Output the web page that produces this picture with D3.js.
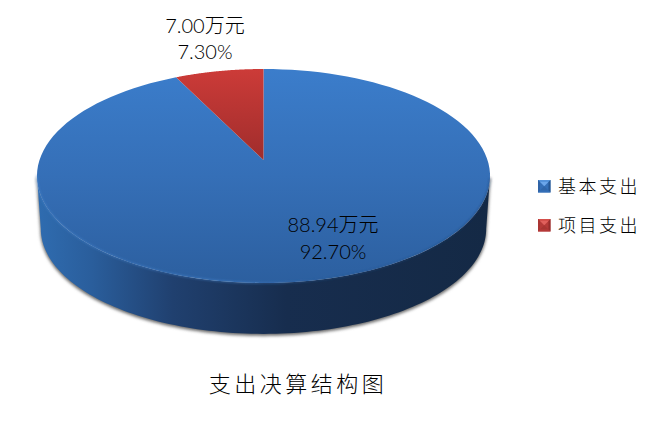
<!DOCTYPE html>
<html><head><meta charset="utf-8">
<script src="https://cdn.jsdelivr.net/npm/d3@7/dist/d3.min.js"></script>
<style>html,body{margin:0;padding:0;background:#fff}svg{display:block}
text{font-family:Lato,"Noto Sans CJK SC",sans-serif;fill:#000;font-weight:300}</style></head>
<body><svg id="c" width="661" height="422"></svg>
<script>
const categories=["基本支出","项目支出"];
const values=[88.94,7.00];
const amountLabels=["88.94万元","7.00万元"];
const percentLabels=["92.70%","7.30%"];
const chartTitle="支出决算结构图";

(function(){
const svg=d3.select("#c");
const defs=svg.append("defs");
function grad(id,stops,horizontal){
  const g=defs.append("linearGradient").attr("id",id).attr("x1",0).attr("y1",0)
    .attr("x2",horizontal?1:0).attr("y2",horizontal?0:1);
  stops.forEach(s=>g.append("stop").attr("offset",s[0]).attr("stop-color",s[1]));
}
grad("gBlue",[[0,"#3b7dcb"],[0.5,"#356fb7"],[1,"#2c5f9f"]]);
grad("gRed",[[0,"#cc3b38"],[1,"#a02d2c"]]);
grad("gSide",[[0,"#2f6cb0"],[0.12,"#2a5e9c"],[0.3,"#20406f"],[0.55,"#172d4e"],[1,"#142945"]],true);
grad("gRim",[[0,"#4a8ad6"],[0.45,"#4d8fdc"],[0.62,"#2a5a96"],[1,"#1d3c66"]],true);
const blur=(id,sd)=>defs.append("filter").attr("id",id).attr("x","-10%").attr("y","-10%").attr("width","120%").attr("height","120%")
  .append("feGaussianBlur").attr("stdDeviation",sd);
blur("blur",1.8);blur("soft",0.8);

// perspective projection of the unit disc
const k=0.1495,a=104.6,b=224,cx=263.5;
const proj=(theta,r,y0,s)=>{const u=r*Math.sin(theta),v=r*Math.cos(theta),w=1+k*v;
  return [cx+s*b*u/w,y0-s*a*v/w];};
const topP=(t,r=1)=>proj(t,r,160,1), botP=t=>proj(t,1,213,0.983);
const line=d3.line();
const rad=d=>d*Math.PI/180;
const arcPts=(f,t0,t1)=>d3.range(0,121).map(i=>f(t0+(t1-t0)*i/120));

const arcs=d3.pie().sort(null)(values);

// shadow and wall: hull between the extreme left/right points of both discs
const wallPts=arcPts(topP,rad(98.6),rad(261.4)).concat(arcPts(botP,rad(261.4),rad(98.6)));
svg.append("path").attr("d",line(wallPts)+"Z").attr("transform","translate(0,1.5)")
  .attr("fill","#666").attr("stroke","#888").attr("stroke-width",1.5).attr("filter","url(#blur)");
svg.append("path").attr("d",line(wallPts)+"Z").attr("fill","url(#gSide)");
// top slices
const fills=["url(#gBlue)","url(#gRed)"];
svg.selectAll("path.slice").data(arcs).join("path").attr("class","slice")
  .attr("d",d=>line([topP(0,0)].concat(arcPts(topP,d.startAngle,d.endAngle)))+"Z")
  .attr("fill",(d,i)=>fills[i]);
// rim highlight on the front edge
svg.append("path").attr("d",line(arcPts(topP,rad(100),rad(262)))).attr("fill","none")
  .attr("stroke","url(#gRim)").attr("stroke-width",1.2).attr("stroke-opacity",0.6).attr("filter","url(#soft)");

// data labels
const labelPos=[[333,232,259],[205,33,59]];
svg.selectAll("text.amt").data(amountLabels).join("text").attr("class","amt")
  .attr("x",(d,i)=>labelPos[i][0]).attr("y",(d,i)=>labelPos[i][1])
  .attr("text-anchor","middle").attr("font-size",20).text(d=>d);
svg.selectAll("text.pct").data(percentLabels).join("text").attr("class","pct")
  .attr("x",(d,i)=>labelPos[i][0]).attr("y",(d,i)=>labelPos[i][2])
  .attr("text-anchor","middle").attr("font-size",20).text(d=>d);

// legend
const legend=svg.selectAll("g.lg").data(categories).join("g").attr("class","lg")
  .attr("transform",(d,i)=>`translate(538,${180+i*39})`);
const S=12.5,I=2;
const faces=[
  [[0,0],[S,0],[S-I,I],[I,I]],
  [[0,0],[I,I],[I,S-I],[0,S]],
  [[S,0],[S,S],[S-I,S-I],[S-I,I]],
  [[0,S],[S,S],[S-I,S-I],[I,S-I]]];
legend.each(function(d,i){
  const g=d3.select(this);
  const base=i?["#d9534f","#a83532","#8f2b2a","#b53a38"]:["#5b9ae2","#2f62a3","#24528c","#346fb7"];
  g.append("rect").attr("width",S).attr("height",S).attr("fill",base[3]);
  g.append("path").attr("d",`M${I},${I}L${S-I},${I}L${S/2},${S/2}Z`).attr("fill",i?"#e0605c":"#6ba6ea");
  g.append("path").attr("d",`M${I},${S-I}L${S-I},${S-I}L${S/2},${S/2}Z`).attr("fill",i?"#a83532":"#2f66aa");
  faces.forEach((f,j)=>g.append("path").attr("d",line(f)+"Z").attr("fill",base[j]).attr("opacity",0.85));
  g.append("text").attr("x",20).attr("y",12.5).attr("font-size",18).attr("letter-spacing",2.5).text(d);
});

// title
svg.append("text").attr("x",298).attr("y",392).attr("text-anchor","middle")
  .attr("font-size",22).attr("letter-spacing",3.5).text(chartTitle);
})();
</script></body></html>
